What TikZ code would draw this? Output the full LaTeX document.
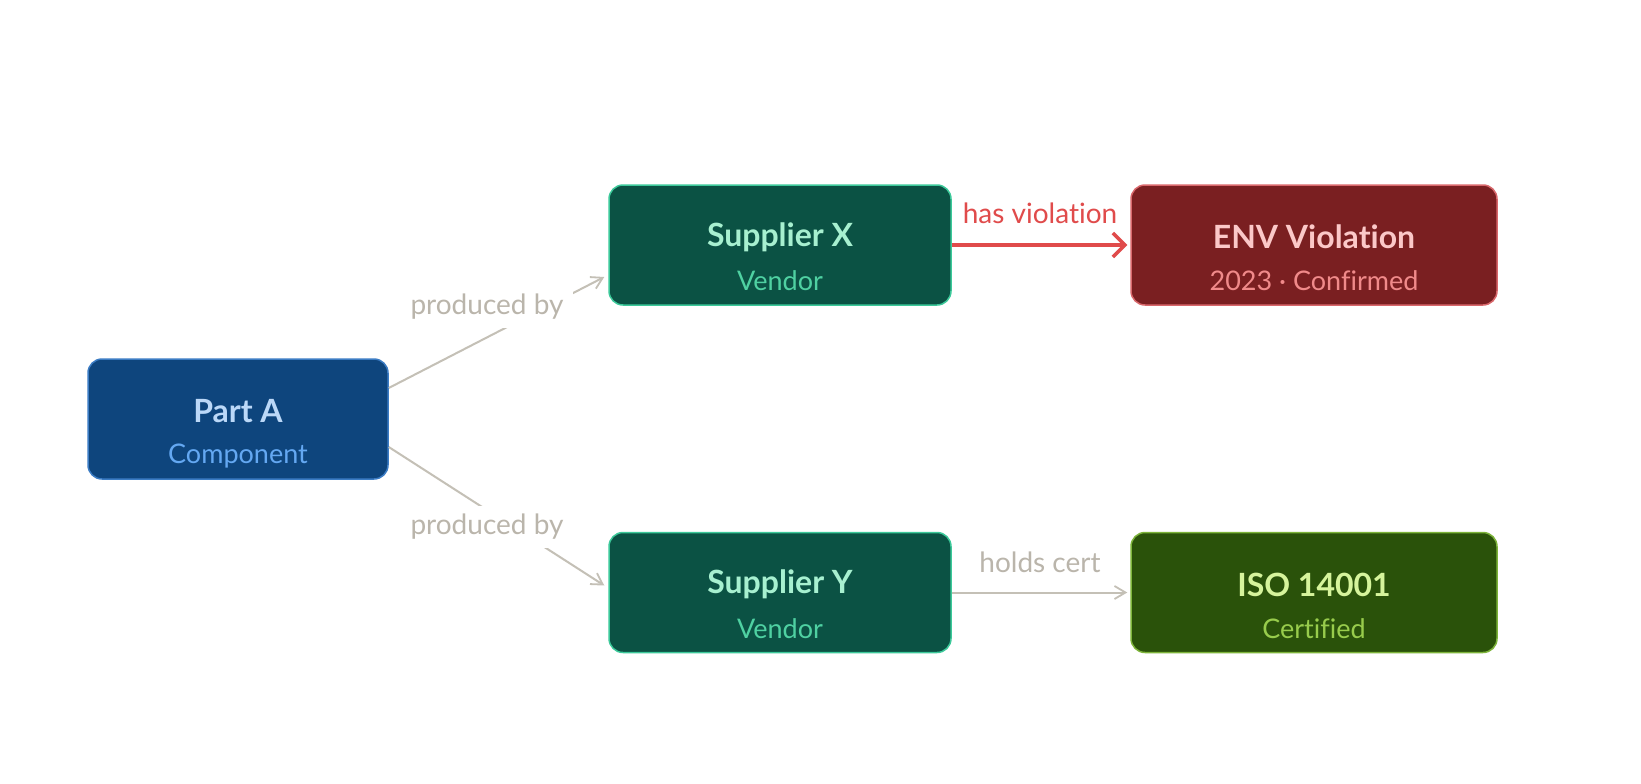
\documentclass[tikz,border=0pt]{standalone}
\usepackage{fontspec}
\setmainfont{Lato}[Ligatures=NoCommon]
\usetikzlibrary{arrows.meta,calc}
\definecolor{pafill}{HTML}{0E457D}
\definecolor{padraw}{HTML}{3B7CC4}
\definecolor{patitle}{HTML}{BBD8F8}
\definecolor{pasub}{HTML}{64A8F2}
\definecolor{sufill}{HTML}{0B5244}
\definecolor{sudraw}{HTML}{3CC99A}
\definecolor{sutitle}{HTML}{A7F0D0}
\definecolor{susub}{HTML}{4FD1A2}
\definecolor{enfill}{HTML}{7A1F21}
\definecolor{endraw}{HTML}{D8676B}
\definecolor{entitle}{HTML}{FBC8C8}
\definecolor{ensub}{HTML}{F08A8A}
\definecolor{isfill}{HTML}{2A520A}
\definecolor{isdraw}{HTML}{7DB43A}
\definecolor{istitle}{HTML}{D6F49C}
\definecolor{issub}{HTML}{98CC4C}
\definecolor{edgegrey}{HTML}{C4C0B6}
\definecolor{labelgrey}{HTML}{BAB5AB}
\definecolor{alertred}{HTML}{E04B4B}
\tikzset{
  box/.style={rectangle, rounded corners=14pt, line width=1.5pt, minimum height=120pt, inner sep=0pt},
  ttl/.style={font=\fontsize{32}{34}\selectfont\bfseries, inner sep=0pt},
  sub/.style={font=\fontsize{27}{29}\selectfont, inner sep=0pt},
  elabel/.style={font=\fontsize{28}{30}\selectfont, text=labelgrey, inner sep=0pt},
  lbox/.style={elabel, fill=white, inner xsep=10pt, inner ysep=8pt},
  greyedge/.style={draw=edgegrey, line width=2pt, -{Straight Barb[length=11pt,width=13pt,line width=1.8pt]}},
  rededge/.style={draw=alertred, line width=3.5pt, -{Straight Barb[length=12pt,width=24pt,line width=3.5pt]}}
}
\begin{document}
\begin{tikzpicture}[x=1pt,y=-1pt]
\useasboundingbox[fill=white] (0,0) rectangle (1641,784);
% boxes
\node[box, fill=pafill, draw=padraw, minimum width=300pt] (partA) at (238,419) {};
\node[box, fill=sufill, draw=sudraw, minimum width=342pt] (supX) at (780,245) {};
\node[box, fill=enfill, draw=endraw, minimum width=366pt] (env) at (1314,245) {};
\node[box, fill=sufill, draw=sudraw, minimum width=342pt] (supY) at (780,592.5) {};
\node[box, fill=isfill, draw=isdraw, minimum width=366pt] (iso) at (1314,592.5) {};
% texts
\node[ttl, text=patitle] (partAt) at ($(partA.center)+(0,-8)$) {Part A};
\node[sub, text=pasub] (partAs) at ($(partA.center)+(0,37)$) {Component};
\node[ttl, text=sutitle] (supXt) at ($(supX.center)+(0,-8)$) {Supplier X};
\node[sub, text=susub] (supXs) at ($(supX.center)+(0,36)$) {Vendor};
\node[ttl, text=entitle] (envt) at ($(env.center)+(0,-8)$) {ENV Violation};
\node[sub, text=ensub] (envs) at ($(env.center)+(0,36)$) {2023 · Confirmed};
\node[ttl, text=sutitle] (supYt) at ($(supY.center)+(0,-8)$) {Supplier Y};
\node[sub, text=susub] (supYs) at ($(supY.center)+(0,36)$) {Vendor};
\node[ttl, text=istitle] (isot) at ($(iso.center)+(0,-8)$) {ISO 14001};
\node[sub, text=issub] (isos) at ($(iso.center)+(0,36)$) {Certified};
% edges
\draw[greyedge] ($(partA.east)+(0,-31)$) -- ($(supX.west)+(-4,32)$);
\draw[greyedge] ($(partA.east)+(0,28)$) -- ($(supY.west)+(-4,-7)$);
\draw[rededge] (supX.east) -- ($(env.west)+(-3,0)$);
\draw[greyedge] (supY.east) -- ($(iso.west)+(-3,0)$);
% edge labels
\node[lbox] (l1) at (487,307) {produced by};
\node[lbox] (l2) at (487,527) {produced by};
\node[elabel, text=alertred] (l3) at (1040,213) {has violation};
\node[elabel] (l4) at (1040,562) {holds cert};
\end{tikzpicture}
\end{document}
